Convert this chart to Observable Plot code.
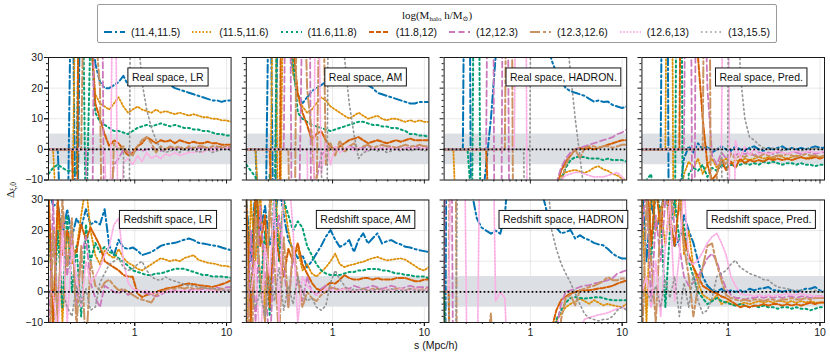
<!DOCTYPE html>
<html><head><meta charset="utf-8">
<script src="https://cdn.jsdelivr.net/npm/d3@7"></script>
<script src="https://cdn.jsdelivr.net/npm/@observablehq/plot@0.6"></script>
<style>
body{margin:0;background:#fff;}
#wrap{position:relative;width:830px;height:361px;font-family:"Liberation Sans",Arial,sans-serif;color:#111;overflow:hidden;}
#legend{position:absolute;left:97px;top:4px;width:680px;height:39px;box-sizing:border-box;border:1px solid #9a9a9a;border-radius:2px;background:#fff;}
#legend .ttl{position:absolute;left:0;right:0;top:4px;text-align:center;font-family:"Liberation Serif","DejaVu Serif",serif;font-size:11px;line-height:12px;}
#legend .ttl sub{font-size:7px;vertical-align:-2px;}
#legend .items{position:absolute;left:0;right:0;top:21px;display:flex;justify-content:center;gap:12px;font-size:10.5px;line-height:12px;}
#legend .item{display:flex;align-items:center;gap:6px;}
#ylab{position:absolute;left:11px;top:190px;transform:translate(-50%,-50%) rotate(-90deg);font-family:"Liberation Serif","DejaVu Serif",serif;font-size:11px;white-space:nowrap;}
#ylab sub{font-size:7.5px;vertical-align:-2px;}
#xlab{position:absolute;left:436px;top:339px;transform:translateX(-50%);font-size:10.5px;white-space:nowrap;}
</style></head>
<body>
<div id="wrap">
  <div id="legend"><div class="ttl">log(M<sub>halo</sub> h/M<sub>⊙</sub>)</div><div class="items" id="items"></div></div>
  <div id="ylab">Δ<sub>ξ,0</sub></div>
  <div id="xlab">s (Mpc/h)</div>
</div>
<script>
// separation s (Mpc/h)
const s = [0.115,0.129,0.145,0.163,0.184,0.207,0.232,0.261,0.294,0.330, 0.372,0.418,0.470,0.528,0.594,0.668,0.752,0.845,0.951,1.07, 1.20,1.35,1.52,1.71,1.92,2.16,2.43,2.74,3.08,3.46, 3.89,4.38,4.92,5.53,6.22,7.00,7.87,8.85,9.95,11.2];
const bins = ["(11.4,11.5)","(11.5,11.6)","(11.6,11.8)","(11.8,12)","(12,12.3)","(12.3,12.6)","(12.6,13)","(13,15.5)"];
const cols = ["LR","AM","HADRON","Pred"];
const rowsF = ["Real","Redshift"];
const panelLabels = ["Real space, LR","Real space, AM","Real space, HADRON.","Real space, Pred.","Redshift space, LR","Redshift space, AM","Redshift space, HADRON","Redshift space, Pred."];
const yMajor = [-10,0,10,20,30];
const yMinor = [-8,-6,-4,-2,2,4,6,8,12,14,16,18,22,24,26,28];
const xMajor = [1,10];
const xMinor = [0.2,0.3,0.4,0.5,0.6,0.7,0.8,0.9,2,3,4,5,6,7,8,9];
const band = [-5,5];

// Delta_xi,0 per panel: one array per halo-mass bin
const realLR = [
 [0,0,0,-40,-40,80,-60,90,90,50, 28,22,20,20,21,22,24,21,23,22, 24,23,22,24,25,22,21,20,19.5,19, 18.5,18,17.5,17,16.5,16,16,15.5,16,16],
 [0,0,-30,-30,-30,-30,80,70,70,40, 18,15,14,13,15,17,14,12,13,14, 13,12.5,12,13,12,12.5,12,11.5,12,11.5, 11,11.5,11,10.5,10.5,10,10,9.5,9.5,9],
 [-8,-6,-5,-6,-7,-7,-8,100,-30,40, 12,9,8,7,6,6,5.5,5,6,7, 7.5,8,7.5,8,8.5,8,7.5,8,7.5,7, 7,6.5,6.5,6,6,5.5,5,5,4.5,4.5],
 [0,0,0,0,0,0,-60,200,100,40, 15,10,5,1,3,2,0,-2,-1,1, 2,4,3,2,3,2.5,3,2,3,2.5, 2,2.5,2,2,2.5,2,2,1.5,1.5,1.5],
 [0,0,0,0,0,0,0,0,0,-100, 100,150,-50,-20,-5,-3,0,-1,-1,0, -0.5,0,0.5,0,-0.5,0,0.5,0,0.5,0, 0.5,0,0.5,0.5,0,0.5,0.5,1,0.5,0.5],
 [0,0,0,0,0,0,0,0,100,100, 40,20,-100,-40,2,0,1,-1,-2,1, 3,4,2,-1,1,0,1,0.5,1,0, 1,0.5,1,1,0.5,1,1,0.5,1,1],
 [0,0,0,0,0,0,0,0,0,0, 0,0,0,-50,100,-50,-4,-3,-5,-2, -4,-1,-3,-2,-3,-1.5,-2,-1,-2,-1.5, -1,-1,-0.5,-1,0,-0.5,0,0,0.5,0],
 [0,0,0,0,0,0,0,0,0,0, 0,0,0,0,0,0,0,-100,200,40, 22,13,7,3,0,-1,-0.5,0,-1,0, -0.5,0,-1,-0.5,0,-1,-0.5,0,0,-0.5]
];
const realAM = [
 [0,0,0,-40,-40,80,-60,100,100,40, 25,18,15,17,19,20,21,22,23,22, 21,21,22,23,25,23,21,20,18.5,18, 17.5,17,16.5,16,15.5,15,15,15.5,15.5,15.5],
 [0,0,0,-30,-30,-30,90,-60,70,50, 25,18,14,12,13,15,17,16,14,13, 12,11,10,11,12,11,10,10.5,11,10, 9.5,10,10,9.5,9,9.5,9,9.5,9,9],
 [-5,-7,-9,-20,-30,-8,-30,100,100,60, 30,12,10,9,8,7.5,7,6.5,6,6.5, 7,7.5,8,8.5,9,9,8.5,8,8,7.5, 7.5,7,7,6.5,6,5,5,4.5,4.5,4],
 [0,0,0,0,0,0,-50,-60,200,100, 35,18,12,8,3,5,6,3,1,0, 1,2,3,3.5,4,3,2,2.5,3,2.5, 2,2.5,3,2.5,3,3.5,3,3,3,3],
 [0,0,0,0,0,0,0,0,0,150, -100,-50,50,200,-60,-10,-2,0,1,0, 0.5,0,1,0.5,0,0.5,1,0.5,0,0.5, 1,0.5,0.5,1,0.5,0.5,1,0.5,1,0.5],
 [0,0,0,0,0,0,0,0,0,0, -100,100,80,20,5,-20,100,-5,2,-2, 3,-1,1,2,0,1,1.5,0.5,1,1.5, 1,1,0.5,1,1.5,1,1,1.5,1,1],
 [0,0,0,0,0,0,0,0,0,0, 0,0,0,0,-100,100,-8,2,-5,1, -1,0,1,-0.5,0.5,0,-0.5,0.5,0,0.5, 0,0.5,0,0,0.5,0,0.5,0,0.5,0],
 [0,0,0,0,0,0,0,0,0,0, 0,0,0,0,0,0,0,-100,200,200, 60,30,15,5,-3,-1,-0.5,0,-0.5,0, -1,-0.5,0,-0.5,0,-0.5,0,0,-0.5,0]
];
const realHADRON = [
 [0,0,0,0,0,200,-100,-40,-20,-5, 10,30,60,80,90,100,100,100,90,80, 70,55,35,29,25,22.5,20,19,18.5,18, 17.5,16.5,15.6,16,15.5,15.6,14.5,14,13.5,14],
 [0,0,0,-40,-40,-40,-40,-40,-40,-40, -40,-40,-40,-40,-40,-40,-40,-40,-40,-40, -40,-40,-40,-40,-11,-8.6,-7.5,-7,-6.7,-7.2, -7.7,-7,-6,-5.5,-6.5,-7,-8,-8.5,-9.5,-10],
 [0,0,0,0,0,0,-20,200,-100,-30, -40,-40,-40,-40,-40,-40,-40,-40,-40,-40, -40,-40,-40,-40,-40,-10,-6,-3.5,-2.5,-2.5, -2.5,-3,-3,-3,-3.5,-3,-3.5,-3.5,-3.5,-4],
 [0,0,0,0,0,0,0,0,0,0, -40,-40,-40,-40,-40,-40,-40,-40,-40,-40, -40,-40,-40,-40,-12,-7,-4,-2,0,0.5, 0,0.5,0,0.5,1,1.5,2,2.5,3,3],
 [0,0,0,0,0,0,0,0,0,0, 200,-100,-100,200,-40,-40,-40,-40,-40,-40, -40,-40,-40,-40,-11,-6,-3,-1,0,0.5, 1,1.5,2,2.5,3,3.5,4,5,5.5,6.5],
 [0,0,0,0,0,0,0,0,0,0, 0,0,0,0,200,-100,-40,-40,-40,-40, -40,-40,-40,-40,-40,-11,-5,-2,0,-3, 0.5,1,1,0.5,1,1,0.5,1,1.5,1.5],
 [0,0,0,0,0,0,0,0,0,0, 0,0,0,0,0,0,200,200,-100,-40, -40,-40,-40,-40,-40,-10,-8.5,-8,-7.5,-7.5, -8,-8.5,-9,-9,-9,-8.5,-8,-7.5,-9,-11],
 [0,0,0,0,0,0,0,0,0,0, 0,0,0,0,0,0,0,0,-100,200, 80,80,80,80,70,55,40,25,10,-2, -15,-40,-40,-40,-40,-40,-40,-40,-40,-40]
];
const realPred = [
 [0,0,0,0,0,200,-100,-100,-15,-3, 1,-1,2,0,1,-1,0,1,0,-0.5, 1,0,-0.5,0.5,1,0,-0.5,0.5,0,0.5, 1,0,0.5,0,0.5,0,0.5,1,0.5,0.5],
 [0,0,0,0,0,0,200,-100,-20,-8, -4,-6,-3,-8,-5,-3,-6,-4,-3,-5, -3.5,-4,-3,-3.5,-3,-2.5,-3,-2.5,-3,-2, -2.5,-3,-2.5,-2,-2.5,-3,-2.5,-2,-2.5,-2],
 [-20,-10,-8,-30,-40,-30,-20,-40,200,-100, -8,-6,-7,-5,-9,-6,-7,-5,-6,-5, -5.5,-5,-4.5,-5,-4.5,-5,-4,-4.5,-4,-4.5, -5,-4.5,-4.5,-5,-4.5,-5,-5,-5.5,-5,-5],
 [0,0,0,0,0,0,0,0,0,200, 200,100,30,10,-5,-10,-8,-3,-7,-4, -6,-3,-4.5,-3.5,-4,-3.5,-4,-3,-3.5,-3, -3.5,-3,-3.5,-3,-2.5,-3,-3,-2.5,-3,-2.5],
 [0,0,0,0,0,0,0,0,0,0, 200,-100,200,80,20,-2,-5,-1,-3,-1, -2,-1,-1.5,-1,-2,-1,-1.5,-1,-1.5,-1, -1,-1.5,-1,-1,-1.5,-1,-1,-1.5,-1,-1],
 [0,0,0,0,0,0,0,0,0,0, 0,0,0,0,200,-100,-8,-3,-5,-1.5, -3,-2,-2.5,-1.5,-2,-2.5,-1.5,-2,-2.5,-2, -2,-1.5,-2,-2.5,-2,-1.5,-2,-2,-2.5,-2],
 [0,0,0,0,0,0,0,0,0,0, 0,0,0,0,0,0,0,0,200,-100, 3,-3,1,-2,0,-1.5,-1,-1.5,-1,-0.5, -1,-1.5,-1,-0.5,-1,-1,-0.5,-1,-1,-0.5],
 [0,0,0,0,0,0,0,0,0,0, 0,0,0,0,0,0,0,0,-100,200, 200,25,10,4,3,1.5,0.5,0,0.5,0, -0.5,0,0.5,0,-0.5,0,0,0.5,0,0]
];
const zLR = [
 [35,28,29,18,27,18,24,21,27,22, 23,22,27,15,12,17,14.5,14,14.5,13.5, 12,12.5,13,14,15,15.5,15.8,16,16.5,17, 17.4,16.9,16,15.8,15.5,15.2,15,14.5,14,13.6],
 [27,-15,29,-10,19,9,14,25,35,20, 12,9,13.5,12,11,14,11,9.5,8.7,7.5, 7,8,9,10,11,10.5,10,10.5,10,11, 11.5,12,10.5,10,9.5,9.3,9,8.5,8.5,8],
 [30,-10,20,-5,25,0,15,-8,22,10, 16,13,14.7,13,12.5,11,9.8,8.5,7,6.5, 6,5.5,5.5,6,6,6.5,7,7.5,7.6,7.5, 7,6.5,6,5.5,5.5,5,5,5,4.8,4.6],
 [35,-10,30,12,20,14,13,22,17,21, 18,15,10,9,8,7,5.5,5,4.9,-0.5, -1.7,-1,-0.6,0,0.5,1,1.3,1.6,2,2.5, 2.7,2.5,2.2,2,1.8,1.6,2,2.5,3,3.8],
 [-20,30,-10,25,5,20,-5,12,18,3, -2,-5,2,1,0,-0.5,0.5,-1,0,0.5, 0,-0.5,-1,-1.5,-1,0,0,0.5,0,0.5, 0.5,1,0.5,1,1,1,1.5,1,1.5,1.5],
 [-30,20,-10,30,8,24,-12,15,-20,10, 2,0.5,3,4,2,0.5,1,0,-1,-2, -2.5,-3,-3.5,-1,0,0.5,1,1,1.5,1, 1.5,1,1,1.5,1,1,0.5,1,0.5,0.5],
 [0,0,-15,20,-10,15,5,-5,10,3, 5,8,12,15,22,24,10,3,1,0.5, 0,0.5,-0.5,0,-0.5,0,0.5,0,0.5,0.5, 0,0.5,0.5,0,0.5,0.5,0,0.5,0.5,0.5],
 [0,0,0,0,-5,-8,2,-4,1,-6, -5,3,6,9,10,11,8,7,7.5,9, 10,7,5,4,3.8,4.9,4,3.5,3,2.5, 2,2,1.5,1.5,1,1,1,0.5,0.5,0.5]
];
const zAM = [
 [30,10,35,20,28,15,22,35,25,17, 14,11,12,8,10,12.5,15,18,20.2,17, 14.7,15.5,16.9,13,17,19.1,15.8,17.5,19.1,15.8, 16.5,16.9,16,15.5,14.7,14.5,14,13.6,13.3,13],
 [-20,30,10,35,-10,25,40,15,30,20, 12,14,7,9,6,5,6.5,8,10,12.5, 9,8.1,8.7,9,9.5,9.8,10.5,11,11.4,10.8, 10.3,10.5,10.7,10.9,10.5,9.5,8.5,7.5,7,8.1],
 [25,-5,30,0,20,-8,35,10,30,25, 20,23,21,15,12,9,7,6,5.5,5.5, 5.5,6,6.5,6.5,7,7,7.5,7.5,7.5,7, 7,6.5,6,6,5.5,5.5,5,5,5,4.4],
 [30,-10,35,15,25,-5,20,12,5,14, 10,16,9,6,3,1,0.5,2,3,2.7, 4,5.5,4.5,4,4,4.5,4.5,4,4.5,4, 4,4,4.5,4.5,4.5,4,3.5,3.5,4,4],
 [-30,20,-10,28,5,-20,15,25,8,-5, 12,3,-3,5,0,-1,1,2,1,1.5, 0.5,1.5,1,2,1.5,1,1.5,2,1.5,1, 1.5,2,1.5,1,1.5,2,1.5,1.5,1.5,1.5],
 [20,-30,25,5,-10,30,10,-15,18,-5, 15,5,-5,0,-2,-3,-1,0,1.5,1, 0.5,1,0.5,0,0.5,1,0.5,1,1,0.5, 1,0.5,1,1,0.5,1,1,0.5,1,1],
 [0,0,10,-20,15,5,30,-10,35,40, 20,-10,5,2,0.5,-1,0,1,0.5,0, 0.5,1,0.5,0,0.5,0.5,1,0.5,0,0.5, 1,0.5,0.5,1,0.5,0.5,1,0.5,0.5,1],
 [0,0,-5,0,-8,5,-3,8,-6,2, -4,5,0,-3,-2,-5,-6,-4.5,3,7, 4,2,0,1,0.5,1,0.5,0.5,1,0.5, 0.5,1,0.5,0.5,0.5,1,0.5,0.5,0.5,0.5]
];
const zHADRON = [
 [-100,200,60,60,60,60,32,24,21,20, 19,20,19,25,45,70,90,100,90,80, 60,32,26,22.4,21,19.1,19.5,20.2,17.4,18.5, 17.5,16.9,16,15.5,15.2,14,12.5,11.5,10.9,10.9],
 [0,-100,-40,-40,-40,-40,-40,-40,-40,-40, -40,-40,-40,-40,-40,-40,-40,-40,-40,-40, -40,-40,-40,-15,-9.3,-7.2,-5,-3.9,-3.3,-2.2, -3,-3.9,-2.7,-3.5,-4.4,-3.9,-4.4,-4.7,-5,-3.9],
 [0,-100,-40,-40,-40,-40,-40,-40,-40,-40, -40,-40,-40,-40,-40,-40,-40,-40,-40,-40, -40,-40,-40,-30,-9,-6,-3.5,-2,-1.7,-2, -2.2,-2,-1.8,-1.7,-2,-2.5,-2.7,-2.7,-2.7,-2.7],
 [0,0,-100,-40,-40,-40,-40,-40,-40,-40, -40,-40,-40,-40,-40,-40,-40,-40,-40,-40, -40,-40,-40,-12,-6,-2.7,-1.5,-0.6,0,0.5, 0.5,0.5,0.8,1.1,1.3,1.6,2,2.7,3.2,3.8],
 [0,200,-40,-40,-40,-40,-40,-40,-40,-40, -40,-40,-40,-40,-40,-40,-40,-40,-40,-40, -40,-40,-40,-30,-12,-4,0,0.5,1,1.6, 2,2.2,2.7,3,3.4,3.8,4.5,6,6.5,7.1],
 [0,0,200,-100,-40,-40,-40,-40,-40,-20, -7,-40,-40,-40,-40,-40,-40,-40,-40,-40, -40,-40,-40,-40,-40,-9,-2,-1,-4.4,0.5, 1,1.6,2,2.7,3.5,4.9,3.8,3.8,4.4,4.4],
 [0,0,100,100,100,-40,-40,-40,100,100, 100,-3,0,-2,-40,-40,-40,-40,-40,-40, -40,-40,-40,-40,-40,-40,-40,-40,-40,-12, -9,-8.3,-8,-7.5,-7.2,-6.8,-6.1,-5.5,-5,-5.6],
 [0,0,-100,60,60,60,60,60,60,60, 60,60,60,60,60,60,60,60,60,60, 60,60,40,20,14,9.2,6,3,-0.5,-4, -7.2,-8.5,-9,-9.5,-9,-8.9,-8,-6,-5,-6]
];
const zPred = [
 [35,10,30,20,25,35,22,15,16.9,25, 20,16,10,5,2,0.5,0,1,0,0.5, 0,0.5,0,1,0.5,1,1.2,1.6,0.5,0.5, 0,0.5,0.5,0,0.5,1,1,1.6,0.5,0],
 [30,-10,35,20,28,15,30,25,40,12, 20,8,3,-1,-2,-3,-1,-4,-3,-4, -4.5,-4,-3.5,-4,-3.5,-3,-3.5,-3,-3.5,-3, -3,-3.5,-3,-3.5,-3,-3.5,-3,-3.5,-3.5,-3.5],
 [40,30,10,35,25,-5,20,30,17,22, 10,5,0,-2,-4,-3,-2,-3,-3.5,-4, -4.5,-4,-4.5,-5,-4.5,-5,-4.5,-5,-5,-5.5, -5,-5,-5.5,-5,-5.5,-5.5,-6,-5.5,-5,-5],
 [30,40,15,35,20,40,25,15,30,18, 12,8,5,2,1,0,-0.5,-1.5,-2,-3, -4,-5,-4.5,-5,-4.5,-4.5,-4,-4.5,-4,-4, -4.5,-4,-4.5,-4,-4.5,-4,-3.5,-4,-3.5,-3.5],
 [20,35,-5,25,10,30,40,20,15,5, 2,3,5,8,11,12.5,10,5,1,-1, -2,-2,-2.5,-2,-2,-1.5,-2,-1.5,-2,-1.5, -2,-1.5,-1.5,-2,-1.5,-1.5,-2,-1.5,-1.5,-1.5],
 [-20,30,10,-10,25,35,20,40,30,15, 5,-8,2,8,15,15.8,9,3.8,-1,-2, -2.5,-3,-2.5,-3,-2.5,-2.5,-3,-2.5,-2.5,-3, -2.5,-2.5,-2,-2.5,-2.5,-2,-2.5,-2,-2,-2],
 [0,5,-5,10,-8,15,30,-3,12,35, 10,9,10.4,13,16,18,19.1,16,12,5, 2,-0.6,-1,-1,-1.5,-1,-1.5,-1,-1.5,-1, -1,-0.5,-1,-1,-0.5,-1,-1,-1.5,-1.5,-1.5],
 [0,0,-3,2,-5,4,-2,5,-8,3, -5,6,-3,-7,-6,-2,5,6,7,9, 10.3,8,7,6,5.4,4.9,4,3.8,2.5,1.6, 1.3,1.1,0.5,0.5,0.5,0,0,0.5,0,0]
];

// styles
const colors = ["#0173b2","#de8f05","#029e73","#d55e00","#cc78bc","#ca9161","#fbafe4","#949494"];
const dashes = ["8,3,2,3","1.5,2","2,3","5,2","6,3.5","10,3,3,3","1.5,1.8","1.6,3"];
const widths = [2,1.8,2,2,1.8,2,1.8,1.6];

const panels = [realLR, realAM, realHADRON, realPred, zLR, zAM, zHADRON, zPred];
const data = [];
panels.forEach((P, p) => {
  const col = cols[p % 4], row = rowsF[Math.floor(p / 4)];
  P.forEach((vals, k) => {
    const n = Math.min(vals.length, s.length);
    for (let i = 0; i < n; i++) data.push({col, row, k, s: s[i], v: vals[i]});
  });
});
const labelData = panelLabels.map((label, p) => ({col: cols[p % 4], row: rowsF[Math.floor(p / 4)], label}));

const yfmt = d => d < 0 ? "\u2212" + (-d) : String(d);
const ink = "#1a1a1a";

const chart = Plot.plot({
  width: 830, height: 361,
  marginLeft: 48, marginRight: 6, marginTop: 57, marginBottom: 39,
  style: {fontFamily: '"Liberation Sans", Arial, sans-serif', fontSize: "10.5px", background: "transparent"},
  x: {type: "log", domain: [0.115, 11.2]},
  y: {domain: [-10, 30]},
  fx: {domain: cols, paddingInner: 0.077, paddingOuter: 0, round: false, axis: null},
  fy: {domain: rowsF, paddingInner: 0.14, paddingOuter: 0, round: false, axis: null},
  marks: [
    Plot.gridX(xMajor, {stroke: "#000", strokeOpacity: 0.09, facetAnchor: null}),
    Plot.gridY(yMajor, {stroke: "#000", strokeOpacity: 0.09, facetAnchor: null}),
    Plot.rect([band], {y1: d => d[0], y2: d => d[1], fill: "#dcdfe3"}),
    ...bins.map((b, k) => Plot.line(data.filter(d => d.k === k), {
      x: "s", y: "v", fx: "col", fy: "row",
      stroke: colors[k], strokeWidth: widths[k], strokeDasharray: dashes[k],
      strokeLinejoin: "round", clip: true
    })),
    Plot.ruleY([0], {stroke: "#000", strokeWidth: 1.7, strokeDasharray: "1.7,2.3"}),
    Plot.frame({stroke: ink, strokeWidth: 1}),
    Plot.axisX(xMajor, {facetAnchor: null, tickSize: 4, fill: "none", stroke: ink, label: null}),
    Plot.axisX(xMinor, {facetAnchor: null, tickSize: 2, fill: "none", stroke: ink, label: null}),
    Plot.axisX(xMajor, {tickSize: 4, tickPadding: 2, stroke: ink, fill: ink, tickFormat: d => String(d), label: null}),
    Plot.axisY(yMajor, {facetAnchor: null, tickSize: 4, fill: "none", stroke: ink, label: null}),
    Plot.axisY(yMinor, {facetAnchor: null, tickSize: 2, fill: "none", stroke: ink, label: null}),
    Plot.axisY(yMajor, {tickSize: 4, tickPadding: 1.5, stroke: ink, fill: ink, tickFormat: yfmt, label: null}),
    Plot.text(labelData, {fx: "col", fy: "row", text: "label", frameAnchor: "top", dx: 28, dy: 16, fontSize: 10.5, fill: "#111"})
  ]
});

const wrap = document.getElementById("wrap");
wrap.insertBefore(chart, wrap.firstChild);
chart.style.position = "absolute"; chart.style.left = "0"; chart.style.top = "0";

// white boxed panel labels
chart.querySelectorAll('g[aria-label="text"] text').forEach(t => {
  const b = t.getBBox();
  const r = document.createElementNS("http://www.w3.org/2000/svg", "rect");
  r.setAttribute("x", b.x - 4); r.setAttribute("y", b.y - 3);
  r.setAttribute("width", b.width + 8); r.setAttribute("height", b.height + 6);
  r.setAttribute("fill", "#fff"); r.setAttribute("stroke", "#111"); r.setAttribute("stroke-width", "1");
  const tr = t.getAttribute("transform"); if (tr) r.setAttribute("transform", tr);
  t.parentNode.insertBefore(r, t);
});

// legend
const items = document.getElementById("items");
bins.forEach((b, k) => {
  const it = document.createElement("div"); it.className = "item";
  it.innerHTML = `<svg width="21" height="8"><line x1="0" y1="4" x2="21" y2="4" stroke="${colors[k]}" stroke-width="${widths[k]}" stroke-dasharray="${dashes[k]}"/></svg><span>${b}</span>`;
  items.appendChild(it);
});
</script>
</body></html>
